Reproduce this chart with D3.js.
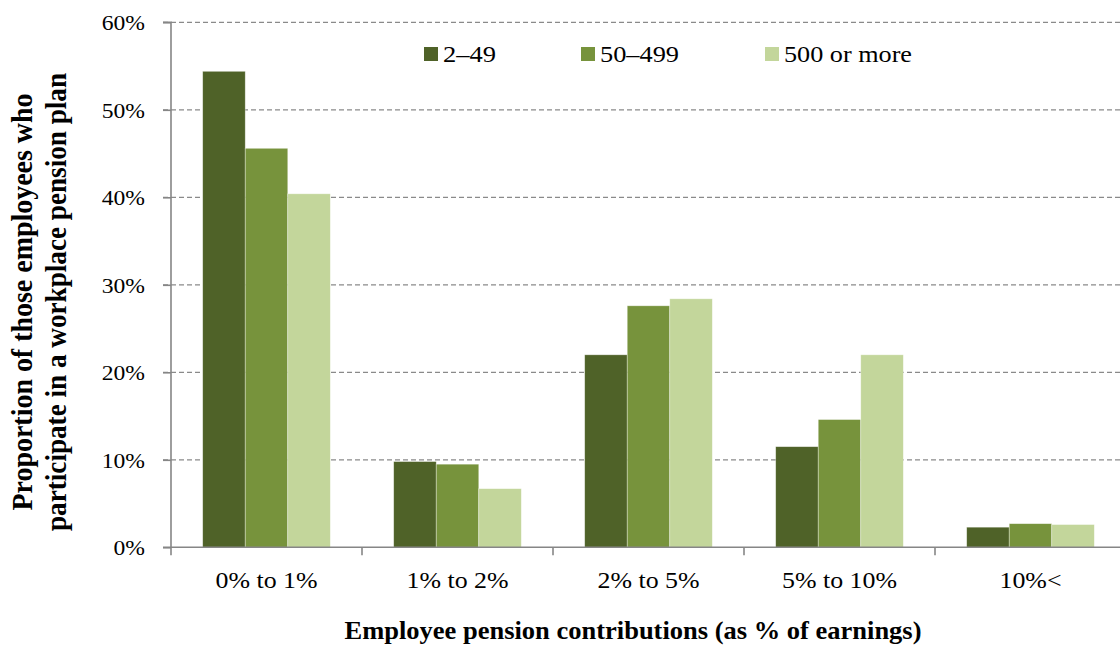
<!DOCTYPE html>
<html><head><meta charset="utf-8">
<script src="https://cdn.jsdelivr.net/npm/d3@7"></script>
<style>body{margin:0;background:#fff}svg{display:block}</style>
</head><body><svg id="c" width="1120" height="650"></svg>
<script>
const categories = ["0% to 1%", "1% to 2%", "2% to 5%", "5% to 10%", "10%<"];
const seriesNames = ["2\u201349", "50\u2013499", "500 or more"];
const valsSmall = [54.4, 9.8, 22.0, 11.5, 2.3];
const valsMedium = [45.6, 9.5, 27.6, 14.6, 2.7];
const valsLarge = [40.4, 6.7, 28.4, 22.0, 2.6];
const yTicks = [0, 10, 20, 30, 40, 50, 60];
const colors = ["#4F6228", "#77933C", "#C3D69B"];
const series = [valsSmall, valsMedium, valsLarge];
const FONT = "'Liberation Serif', 'Times New Roman', 'DejaVu Serif', serif";

function stretch(sel, factor) {
  sel.each(function() {
    const w = this.getComputedTextLength();
    d3.select(this).attr("textLength", w * factor).attr("lengthAdjust", "spacingAndGlyphs");
  });
}

const svg = d3.select("#c").style("font-family", FONT);
const m = {l:171, r:1126, t:22.3, b:547.3};
const x = d3.scaleBand().domain(categories).range([m.l, m.r]).paddingInner(0).paddingOuter(0);
const xs = d3.scaleBand().domain(d3.range(3)).range([0, x.bandwidth()]).paddingInner(0).paddingOuter(0.745);
const y = d3.scaleLinear().domain([0, 60]).range([m.b, m.t]);

// gridlines
svg.append("g").selectAll("line").data(yTicks.filter(d=>d>0)).join("line")
  .attr("x1", 163).attr("x2", 1120).attr("y1", d=>y(d)).attr("y2", d=>y(d))
  .attr("stroke", "#8a8a8a").attr("stroke-width", 1.3).attr("stroke-dasharray", "5,3");

// bars
const g = svg.append("g");
categories.forEach((c, i) => {
  series.forEach((s, j) => {
    g.append("rect").attr("x", x(c) + xs(j)).attr("width", xs.bandwidth())
      .attr("y", y(s[i])).attr("height", y(0) - y(s[i]))
      .attr("fill", colors[j]).attr("stroke", "rgba(255,255,255,0.5)").attr("stroke-width", 0.7);
  });
});

// y axis
const ya = svg.append("g").attr("transform", `translate(${m.l},0)`)
  .call(d3.axisLeft(y).tickValues(yTicks).tickFormat(d=>d+"%").tickSize(8).tickPadding(18))
  .attr("font-family", null).attr("font-size", null);
ya.select(".domain").attr("stroke", "#868686").attr("stroke-width", 1.6).attr("d", `M-8,${m.b}H0V${m.t}H-8`);
ya.selectAll(".tick line").attr("stroke", "#868686").attr("stroke-width", 1.6);
ya.selectAll(".tick text").style("font-family", FONT).attr("font-size", 20).attr("fill", "#000").attr("dy", "0.36em");
stretch(ya.selectAll(".tick text"), 1.18);

// x axis
const xa = svg.append("g").attr("transform", `translate(0,${m.b})`)
  .call(d3.axisBottom(x).tickSize(0))
  .attr("font-family", null).attr("font-size", null);
xa.select(".domain").attr("stroke", "#868686").attr("stroke-width", 1.6).attr("d", `M${m.l},0H1120`);
xa.selectAll(".tick text").style("font-family", FONT).attr("font-size", 23).attr("fill", "#000").attr("dy", null).attr("y", 41);
stretch(xa.selectAll(".tick text"), 1.125);
svg.append("g").selectAll("line").data(categories).join("line")
  .attr("x1", d=>x(d)).attr("x2", d=>x(d)).attr("y1", m.b).attr("y2", m.b+8)
  .attr("stroke", "#868686").attr("stroke-width", 1.6);

// legend
const legX = [424, 581, 765];
const legW = [53, 79, 128];
seriesNames.forEach((n, j) => {
  svg.append("rect").attr("x", legX[j]).attr("y", 47).attr("width", 14).attr("height", 14).attr("fill", colors[j]);
  svg.append("text").style("font-family", FONT).attr("x", legX[j] + 19).attr("y", 62).attr("font-size", 24)
    .attr("textLength", legW[j]).attr("lengthAdjust", "spacingAndGlyphs").text(n);
});

// axis titles
svg.append("text").style("font-family", FONT).attr("x", 633).attr("y", 639).attr("text-anchor", "middle")
  .attr("font-size", 25).attr("font-weight", "bold")
  .attr("textLength", 577).attr("lengthAdjust", "spacingAndGlyphs")
  .text("Employee pension contributions (as % of earnings)");
const yt = svg.append("text").style("font-family", FONT).attr("transform", "translate(0,302) scale(1.12,1) rotate(-90)")
  .attr("text-anchor", "middle").attr("font-size", 27).attr("font-weight", "bold");
yt.append("tspan").attr("x", 0).attr("y", 28.6).attr("textLength", 417).attr("lengthAdjust", "spacingAndGlyphs")
  .text("Proportion of those employees who");
yt.append("tspan").attr("x", 0).attr("y", 58.9).attr("textLength", 458).attr("lengthAdjust", "spacingAndGlyphs")
  .text("participate in a workplace pension plan");
</script></body></html>
